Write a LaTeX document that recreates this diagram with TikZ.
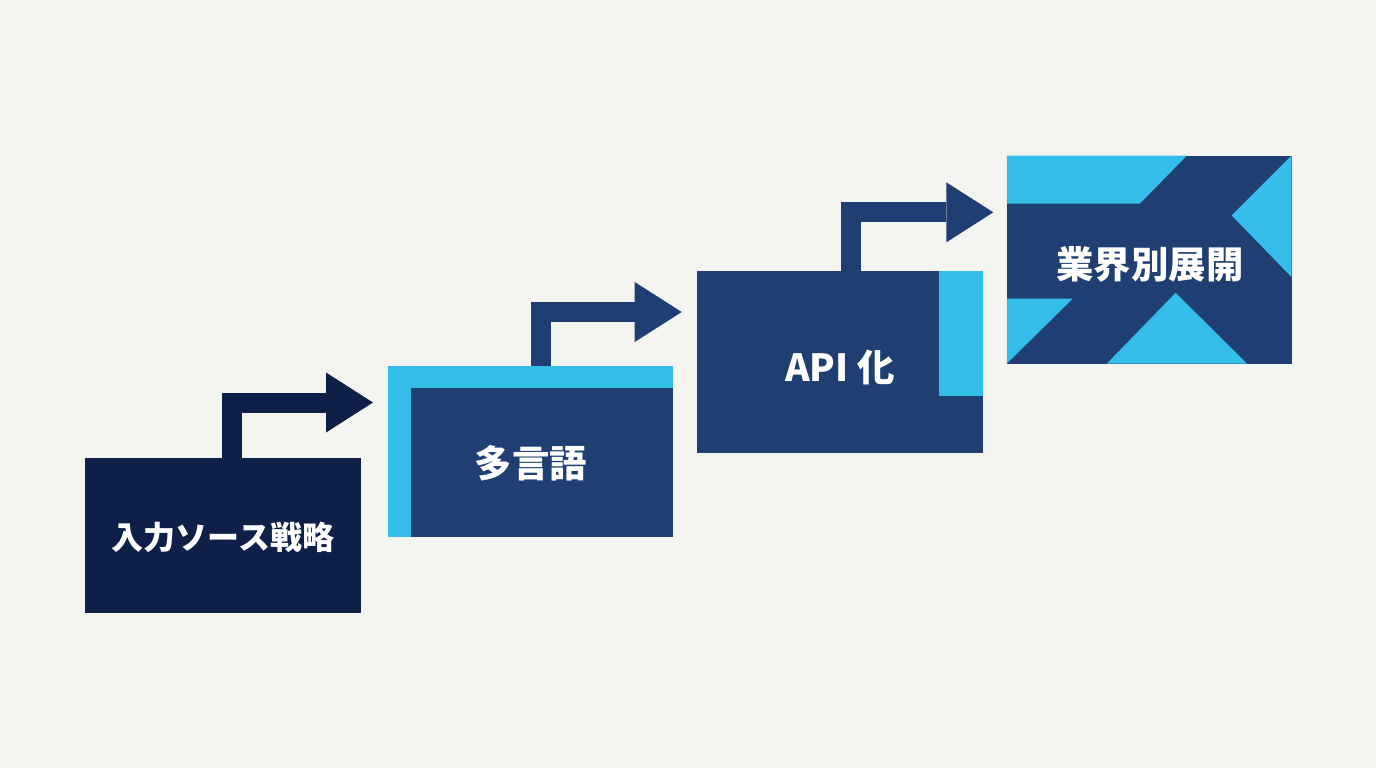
\documentclass[tikz,border=0pt]{standalone}
\usepackage{fontspec}
\setmainfont{Noto Sans CJK JP}
\usetikzlibrary{arrows.meta}
\definecolor{bgcolor}{RGB}{244,245,240}
\definecolor{navycolor}{RGB}{15,32,72}
\definecolor{stagecolor}{RGB}{31,63,115}
\definecolor{skycolor}{RGB}{53,190,234}

\begin{document}
\begin{tikzpicture}[
    x=0.5pt, y=-0.5pt,
    stage/.style={inner sep=0pt, outer sep=0pt, minimum width=142.5pt},
    title/.style={text=white, font=\bfseries\fontsize{18.7pt}{22pt}\selectfont},
    flow/.style={line width=10pt, line join=miter, -{Triangle[width=30pt, length=23.5pt, line width=0pt]}}
]
% Canvas
\fill[bgcolor] (0,0) rectangle (1376,768);

% Stages
\node[stage, fill=navycolor, minimum width=138pt, minimum height=77.5pt] (b1) at (223,535.5) {};
\node[stage, fill=skycolor, minimum height=85.5pt] (b2) at (530.5,451.5) {};
\node[stage, fill=stagecolor, minimum width=142.7pt, minimum height=91.2pt] (b3) at (840,362) {};
\node[stage, fill=stagecolor, minimum width=142.4pt, minimum height=104pt] (b4) at (1149.3,259.5) {};

% Accents
\fill[stagecolor] ([shift={(22.7,22.3)}]b2.north west) rectangle (b2.south east);
\fill[skycolor] ([shift={(-43.4,0)}]b3.north east) rectangle ([shift={(0,125)}]b3.north east);
\fill[skycolor] (b4.north west) -- ++(180,0) -- ++(-47,48) -- ++(-133,0) -- cycle;
\fill[skycolor] (b4.south west) -- ++(0,-65) -- ++(66,0) -- cycle;
\fill[skycolor] ([xshift=50pt]b4.south west) -- ++(68.7,-70.7) -- ++(71.3,70.7) -- cycle;
\fill[skycolor] (b4.north east) -- ++(-60,60) -- ++(60,61.7) -- cycle;

% Labels
\node[title, font=\bfseries\fontsize{16pt}{20pt}\selectfont] (l1) at (223,537) {入力ソース戦略};
\node[title] (l2) at (531,463) {多言語};
\node[title] (l3) at (840,367) {API 化};
\node[title] (l4) at (1150,264) {業界別展開};

% Arrows
\coordinate (k1) at (232.3,402.5);
\coordinate (t1) at (373,402.5);
\coordinate (k2) at (540.7,312);
\coordinate (t2) at (681.7,312);
\coordinate (k3) at (850.7,212.3);
\coordinate (t3) at (993.3,212.3);
\draw[flow, navycolor] (k1 |- b1.north) -- (k1) -- (t1);
\draw[flow, stagecolor] (k2 |- b2.north) -- (k2) -- (t2);
\draw[flow, stagecolor] (k3 |- b3.north) -- (k3) -- (t3);
\end{tikzpicture}
\end{document}
